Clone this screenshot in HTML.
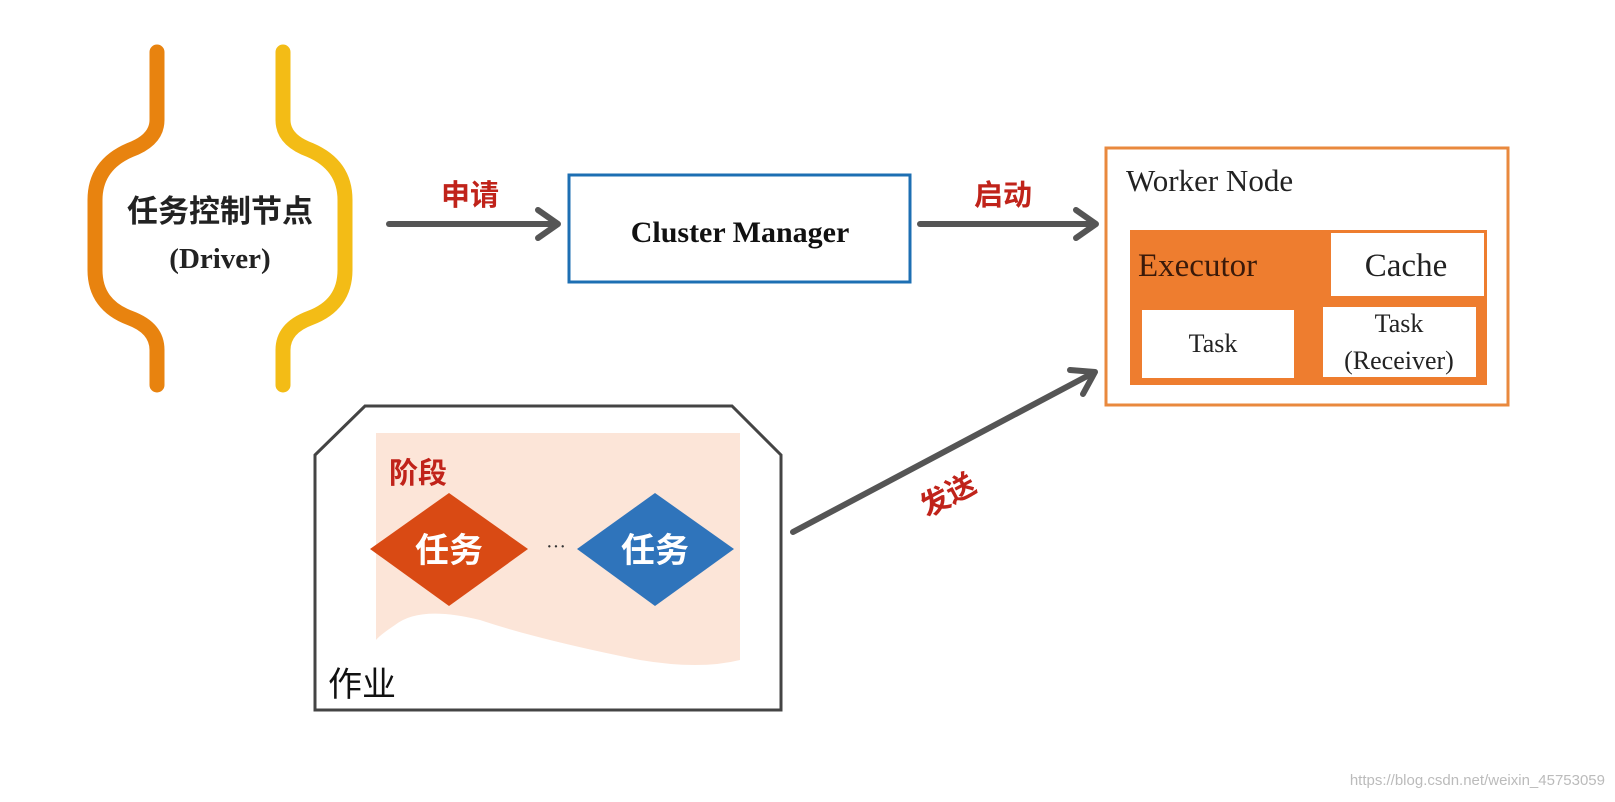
<!DOCTYPE html>
<html><head><meta charset="utf-8"><style>
html,body{margin:0;padding:0;background:#fff}
svg text{font-family:"Liberation Serif","Noto Serif CJK SC",serif}
.cjk{font-family:"Liberation Sans","Noto Sans CJK SC",sans-serif;font-weight:bold}
</style></head><body>
<svg width="1615" height="797" viewBox="0 0 1615 797" xmlns="http://www.w3.org/2000/svg">
<rect width="1615" height="797" fill="#fff"/>
<!-- brackets -->
<path d="M157,52 L157,120 Q157,140 130,150 Q95,165 95,200 L95,270 Q95,305 130,318 Q157,328 157,350 L157,385" fill="none" stroke="#e8830f" stroke-width="15" stroke-linecap="round"/>
<path d="M283,52 L283,120 Q283,140 310,150 Q345,165 345,200 L345,270 Q345,305 310,318 Q283,328 283,350 L283,385" fill="none" stroke="#f3bc16" stroke-width="15" stroke-linecap="round"/>
<text x="220" y="222" text-anchor="middle" class="cjk" font-size="31" fill="#222">任务控制节点</text>
<text x="220" y="268" text-anchor="middle" font-size="29" font-weight="bold" fill="#222">(Driver)</text>
<!-- arrows -->
<g stroke="#555" stroke-width="6" fill="none" stroke-linecap="round" stroke-linejoin="round">
<line x1="389" y1="224" x2="556" y2="224"/><polyline points="538,210 558,224 538,238"/>
<line x1="920" y1="224" x2="1094" y2="224"/><polyline points="1076,210 1096,224 1076,238"/>
<line x1="793" y1="532" x2="1093" y2="373"/><polyline points="1070,370 1095,372 1083,394"/>
</g>
<text x="470" y="205" text-anchor="middle" class="cjk" font-size="29" fill="#c0231a">申请</text>
<text x="1003" y="205" text-anchor="middle" class="cjk" font-size="29" fill="#c0231a">启动</text>
<text x="948" y="505" text-anchor="middle" class="cjk" font-size="29" fill="#c0231a" transform="rotate(-28 948 495)">发送</text>
<!-- cluster manager -->
<rect x="569" y="175" width="341" height="107" fill="#fff" stroke="#1d6fb3" stroke-width="3"/>
<text x="740" y="242" text-anchor="middle" font-size="30" font-weight="bold" fill="#111">Cluster Manager</text>
<!-- worker -->
<rect x="1106" y="148" width="402" height="257" fill="#fff" stroke="#e9893e" stroke-width="3"/>
<text x="1126" y="191" font-size="31" fill="#222">Worker Node</text>
<rect x="1130" y="230" width="357" height="155" fill="#ee7d2f"/>
<rect x="1331" y="233" width="153" height="63" fill="#fff"/>
<rect x="1142" y="310" width="152" height="68" fill="#fff"/>
<rect x="1323" y="307" width="153" height="70" fill="#fff"/>
<text x="1138" y="276" font-size="33" fill="#3a1a0a">Executor</text>
<text x="1406" y="276" text-anchor="middle" font-size="33" fill="#222">Cache</text>
<text x="1213" y="352" text-anchor="middle" font-size="26" fill="#222">Task</text>
<text x="1399" y="332" text-anchor="middle" font-size="26" fill="#222">Task</text>
<text x="1399" y="369" text-anchor="middle" font-size="26" fill="#222">(Receiver)</text>
<!-- job -->
<path d="M315,455 L365,406 L732,406 L781,455 L781,710 L315,710 Z" fill="#fff" stroke="#444" stroke-width="3"/>
<path d="M376,433 L740,433 L740,660 Q700,670 640,660 Q540,640 480,620 Q420,605 395,625 Q380,635 376,640 Z" fill="#fce5d8"/>
<text x="389" y="483" class="cjk" font-size="29" fill="#c0231a">阶段</text>
<polygon points="370,549 449,493 528,549 449,606" fill="#d94a14"/>
<polygon points="577,549 655,493 734,549 655,606" fill="#2f74bb"/>
<text x="449" y="562" text-anchor="middle" class="cjk" font-size="34" fill="#fff">任务</text>
<text x="655" y="562" text-anchor="middle" class="cjk" font-size="34" fill="#fff">任务</text>
<text x="556" y="553" text-anchor="middle" font-size="20" fill="#333">···</text>
<text x="328" y="696" font-family="Liberation Sans,Noto Sans CJK SC,sans-serif" font-size="34" fill="#111" style="font-family:'Liberation Sans','Noto Sans CJK SC',sans-serif">作业</text>
<text x="1605" y="785" text-anchor="end" font-size="15" fill="#bbb" style="font-family:'Liberation Sans',sans-serif">https://blog.csdn.net/weixin_45753059</text>
</svg>
</body></html>
